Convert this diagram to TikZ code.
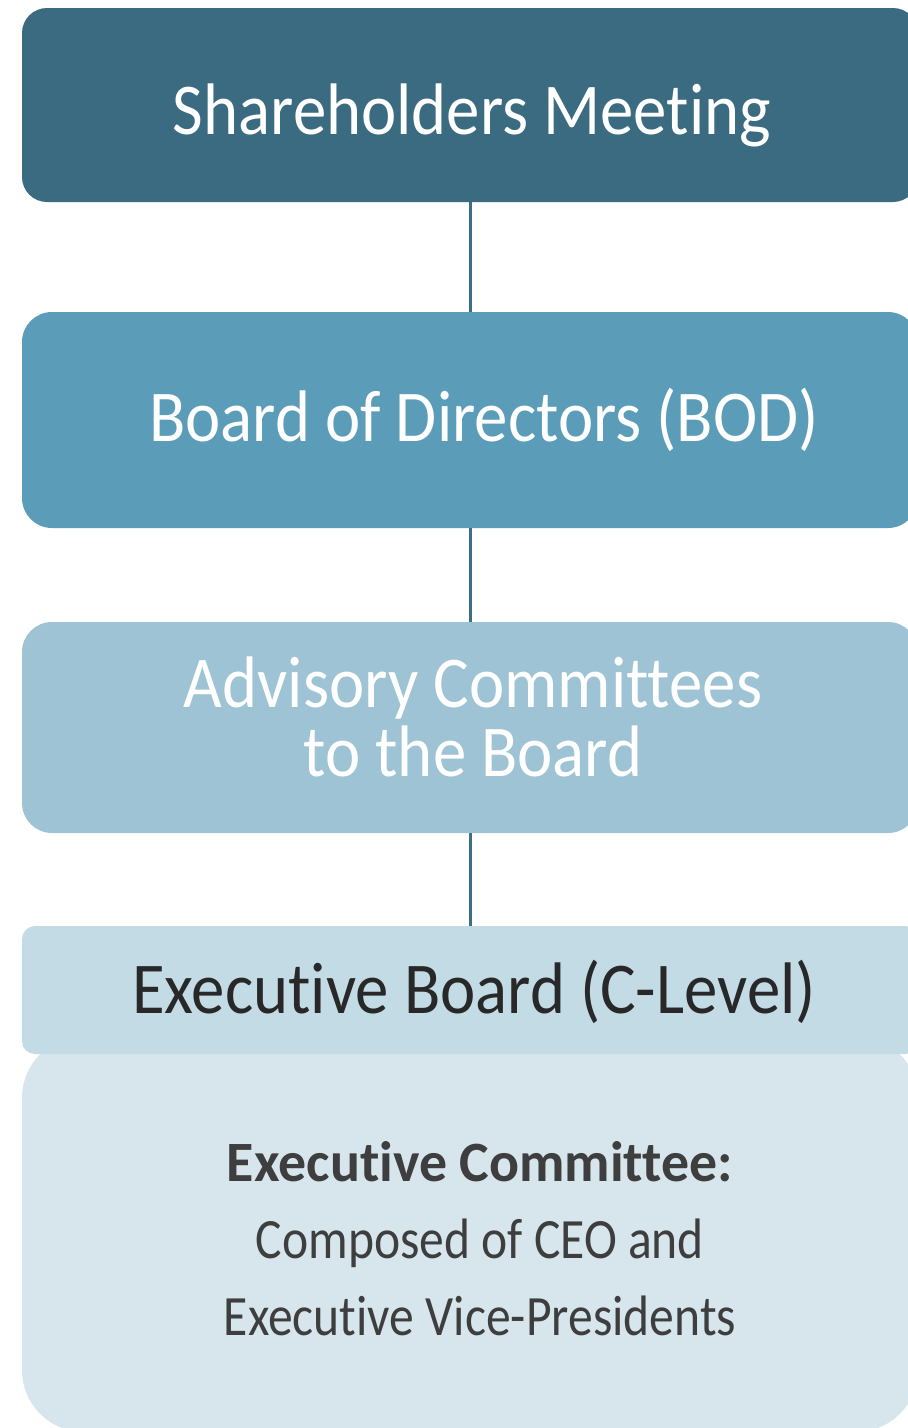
\documentclass[tikz,border=0pt]{standalone}
\usepackage{fontspec}
\setmainfont{Carlito}[FakeStretch=0.915, Ligatures=NoCommon]
\newfontfamily\commfont{Carlito}[FakeStretch=0.87, Ligatures=NoCommon]
\newfontfamily\commheadfont{Carlito}[FakeStretch=0.98, Ligatures=NoCommon]
\usetikzlibrary{positioning}
\definecolor{shareblue}{RGB}{58,107,128}
\definecolor{bodblue}{RGB}{91,157,184}
\definecolor{advblue}{RGB}{157,195,212}
\definecolor{execblue}{RGB}{194,219,229}
\definecolor{commblue}{RGB}{215,230,237}
\definecolor{linkblue}{RGB}{61,110,133}
\definecolor{darktext}{RGB}{40,40,40}
\definecolor{greytext}{RGB}{62,62,62}

\begin{document}
\begin{tikzpicture}[x=1pt, y=1pt,
  level/.style={rectangle, rounded corners=28pt, minimum width=896pt, inner sep=0pt},
  leveltext/.style={inner sep=0pt, text=white, align=center, font=\fontsize{73}{69}\selectfont},
  link/.style={draw=linkblue, line width=3pt}]
\useasboundingbox (0,0) rectangle (908,-1428);
% committee panel sits behind the executive board
\node[level, fill=commblue, minimum height=396pt, rounded corners=62pt] (comm) at (470,-1234) {};
\node[level, fill=shareblue, minimum height=194pt, rounded corners=25pt] (share) at (470,-105) {};
\node[level, fill=bodblue, minimum height=216pt, rounded corners=30pt] (bod) at (470,-420) {};
\node[level, fill=advblue, minimum height=211pt, rounded corners=30pt] (adv) at (470,-727.5) {};
\node[level, fill=execblue, minimum height=128pt, rounded corners=13pt] (exec) at (470,-990) {};
% texts
\node[leveltext] (sharetext) at (472,-115) {Shareholders Meeting};
\node[leveltext] (bodtext) at (484,-420) {Board of Directors (BOD)};
\node[leveltext] (advtext) at (473,-716.5) {Advisory Committees\\to the Board};
\node[leveltext, text=darktext] (exectext) at (474,-992) {Executive Board (C-Level)};
\node[leveltext, text=greytext, font=\fontsize{57}{77}\selectfont\commfont] (commtext) at (480,-1239)
  {{\commheadfont\bfseries Executive Committee:}\\Composed of CEO and\\Executive Vice-Presidents};
\draw[link] (share.south) -- (bod.north);
\draw[link] (bod.south) -- (adv.north);
\draw[link] (adv.south) -- (exec.north);
\end{tikzpicture}
\end{document}
